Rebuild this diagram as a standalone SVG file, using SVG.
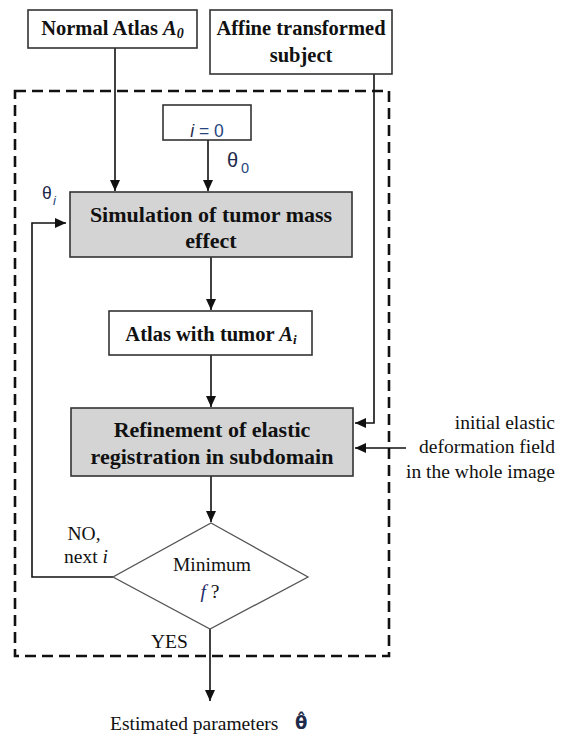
<svg xmlns="http://www.w3.org/2000/svg" width="561" height="734" viewBox="0 0 561 734">
<style>
.box{fill:#fff;stroke:#333;stroke-width:1.6}
.gbox{fill:#d4d4d4;stroke:#333;stroke-width:1.6}
.dia{fill:#fff;stroke:#555;stroke-width:1.3}
.con{fill:none;stroke:#111;stroke-width:1.6}
.dash{fill:none;stroke:#111;stroke-width:2.6;stroke-dasharray:11 6}
.b{font-family:"Liberation Serif","Times New Roman",serif;font-weight:bold;font-size:20.5px;fill:#111;text-anchor:middle}
.bg{font-size:22px}
.r{font-family:"Liberation Serif","Times New Roman",serif;font-size:19.5px;fill:#111}
.s{font-family:"Liberation Sans",Arial,sans-serif;fill:#1e2a4a}
.m{fill:#26457e}
</style>
<defs>
<marker id="ah" markerUnits="userSpaceOnUse" markerWidth="11" markerHeight="10" refX="11" refY="5" orient="auto">
<path d="M0,0 L11,5 L0,10 z" fill="#111"/>
</marker>
</defs>
<rect class="dash" x="15" y="91" width="374" height="565"/>
<g id="connectors">
<path class="con" d="M115,48 V191" marker-end="url(#ah)"/>
<path class="con" d="M208,140 V191" marker-end="url(#ah)"/>
<path class="con" d="M211,257 V310" marker-end="url(#ah)"/>
<path class="con" d="M211,355 V407" marker-end="url(#ah)"/>
<path class="con" d="M374,74 V423 H355" marker-end="url(#ah)"/>
<path class="con" d="M406,448 H355" marker-end="url(#ah)"/>
<path class="con" d="M211,476 V522" marker-end="url(#ah)"/>
<path class="con" d="M113,577 H32 V223 H66" marker-end="url(#ah)"/>
<path class="con" d="M210,629 V701" marker-end="url(#ah)"/>
</g>
<g id="normal-atlas">
<rect class="box" x="28" y="10" width="169" height="38"/>
<text class="b" x="112.5" y="35">Normal Atlas <tspan font-style="italic">A</tspan><tspan font-style="italic" font-size="14" dy="3">0</tspan></text>
</g>
<g id="affine-subject">
<rect class="box" x="210" y="10" width="182" height="64"/>
<text class="b" x="301" y="35">Affine transformed</text>
<text class="b" x="301" y="62">subject</text>
</g>
<g id="i0">
<rect class="box" x="163" y="105" width="88" height="35"/>
<text class="s" x="207" y="137" font-size="17.5" text-anchor="middle"><tspan font-style="italic">i</tspan><tspan class="m"> = 0</tspan></text>
</g>
<g id="theta0">
<text class="s" x="227" y="167" font-size="20">θ</text>
<text class="s m" x="241" y="173" font-size="14.5">0</text>
</g>
<g id="thetai">
<text class="s" x="42" y="199" font-size="17.5">θ</text>
<text class="s m" x="53" y="205" font-size="13" font-style="italic">i</text>
</g>
<g id="simulation">
<rect class="gbox" x="70" y="192" width="282" height="65"/>
<text class="b bg" x="211" y="222">Simulation of tumor mass</text>
<text class="b bg" x="211" y="248">effect</text>
</g>
<g id="atlas-tumor">
<rect class="box" x="109" y="311" width="203" height="44"/>
<text class="b" x="211" y="341">Atlas with tumor <tspan font-style="italic">A</tspan><tspan font-style="italic" font-size="13" dy="3">i</tspan></text>
</g>
<g id="refinement">
<rect class="gbox" x="71" y="408" width="282" height="68"/>
<text class="b bg" x="212" y="437">Refinement of elastic</text>
<text class="b bg" x="212" y="464">registration in subdomain</text>
</g>
<g id="initial-field">
<text class="r" x="555" y="429" text-anchor="end">initial elastic</text>
<text class="r" x="555" y="453" text-anchor="end">deformation field</text>
<text class="r" x="555" y="478" text-anchor="end">in the whole image</text>
</g>
<g id="decision">
<polygon class="dia" points="211,523 308,577 210,629 113,577"/>
<text class="r" x="212" y="571" text-anchor="middle">Minimum</text>
<text class="r" x="210" y="598" text-anchor="middle"><tspan font-style="italic" fill="#1e2a6a">f</tspan> ?</text>
</g>
<g id="labels">
<text class="r" x="84" y="540" text-anchor="middle">NO,</text>
<text class="r" x="86" y="563" text-anchor="middle">next <tspan font-style="italic">i</tspan></text>
<text class="r" x="151" y="648">YES</text>
</g>
<g id="estimated">
<text class="r" x="110" y="730">Estimated parameters</text>
<text x="295" y="729" font-family="'DejaVu Sans',sans-serif" font-size="18" font-weight="bold" fill="#1e2a4a">θ̂</text>
</g>
</svg>
